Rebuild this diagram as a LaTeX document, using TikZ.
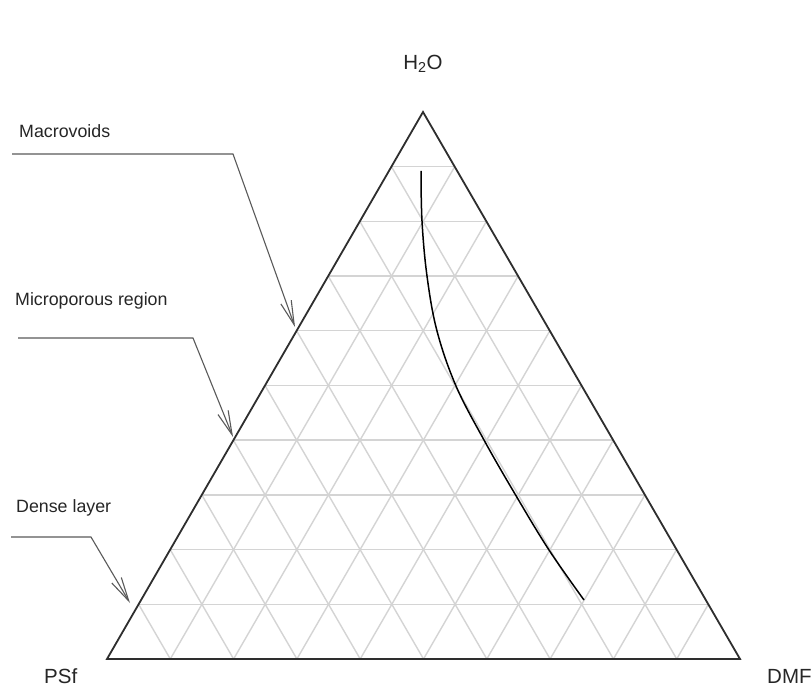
\documentclass[tikz,border=0pt]{standalone}
\usepackage{fontspec}
\setmainfont{Liberation Sans}
\usetikzlibrary{calc,arrows.meta}
\definecolor{gridgray}{HTML}{D4D4D4}
\definecolor{edgegray}{HTML}{2E2E2E}
\definecolor{callgray}{HTML}{5A5A5A}
\begin{document}
\begin{tikzpicture}[x=1pt,y=-1pt,
  gridline/.style={draw=gridgray,line width=1.4pt},
  edge/.style={draw=edgegray,line width=1.8pt,line join=miter},
  callout/.style={draw=callgray,line width=1.1pt,-{Straight Barb[length=24pt,width=11pt,line width=1.1pt]}},
  lbl/.style={inner sep=0pt,font=\fontsize{17.8}{21}\selectfont,text=black!85},
  vlbl/.style={inner sep=0pt,font=\fontsize{20.5}{24}\selectfont,text=black!85}]
\useasboundingbox (0,0) rectangle (812,687);
\fill[white] (0,0) rectangle (812,687);
\coordinate (A) at (107,659);
\coordinate (B) at (740,659);
\coordinate (C) at (423,112);
% grid
\foreach \i in {1,...,9}{
  \draw[gridline] ($(A)!0.1*\i!(C)$) -- ($(B)!0.1*\i!(C)$);
  \draw[gridline] ($(A)!0.1*\i!(B)$) -- ($(C)!0.1*\i!(B)$);
  \draw[gridline] ($(A)!0.1*\i!(B)$) -- ($(A)!0.1*\i!(C)$);
}
\draw[edge] (A) -- (B) -- (C) -- cycle;
% curve
\draw[black,line width=1.5pt] plot[smooth,tension=0.6] coordinates {(421,171) (422,221) (427,276) (437,331) (456,386) (484,440) (515,494) (549,550) (584,600)};
% vertex labels
\node[vlbl] (h2o) at (423,64) {H\textsubscript{2}O};
\node[vlbl,anchor=west] (psf) at (44,676) {PSf};
\node[vlbl,anchor=west] (dmf) at (767,676) {DMF};
% callouts
\node[lbl,anchor=west] (macro) at (19,131) {Macrovoids};
\node[lbl,anchor=west] (micro) at (15,301) {Microporous region};
\node[lbl,anchor=west] (dense) at (16,508) {Dense layer};
\coordinate (m0) at (12,154); \coordinate (m1) at (233,154); \coordinate (m2) at (295,327);
\coordinate (p0) at (18,338); \coordinate (p1) at (193,338); \coordinate (p2) at (233,437);
\coordinate (d0) at (11,537); \coordinate (d1) at (91,537); \coordinate (d2) at (130,603);
\draw[callout] (m0) -- (m1) -- (m2);
\draw[callout] (p0) -- (p1) -- (p2);
\draw[callout] (d0) -- (d1) -- (d2);
\end{tikzpicture}
\end{document}
